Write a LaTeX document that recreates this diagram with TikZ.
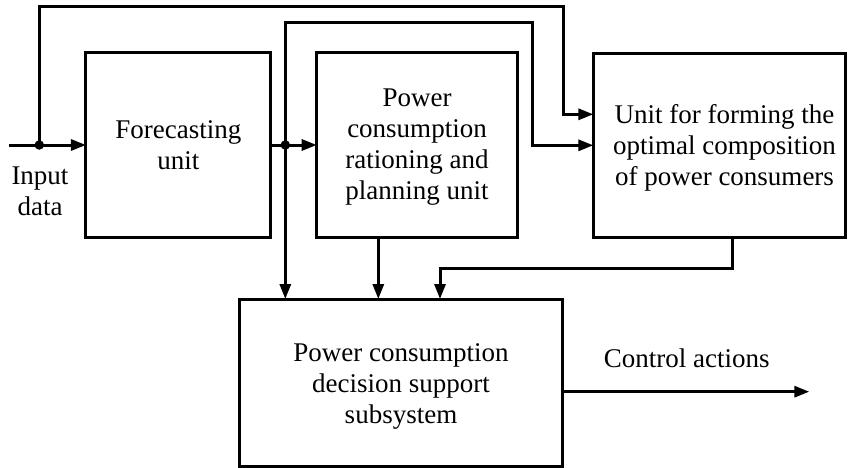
\documentclass[tikz,border=0pt]{standalone}
\usepackage{fontspec}
\setmainfont{Liberation Serif}
\usetikzlibrary{arrows.meta}
\tikzset{
  blk/.style={draw, line width=3pt, inner sep=0pt, outer sep=0pt},
  txt/.style={font=\fontsize{27}{31}\selectfont, align=center, inner sep=0pt},
  wire/.style={line width=3pt},
  arr/.style={wire, -{Triangle[length=15pt,width=11pt]}},
  jdot/.style={circle, fill, inner sep=0pt, minimum size=9.5pt}
}
\begin{document}
\begin{tikzpicture}[x=1pt,y=-1pt]
\useasboundingbox (0,0) rectangle (848,468);
% blocks
\node[blk, minimum width=184.7pt, minimum height=184.6pt] (fc) at (178.3,145) {};
\node[txt] (fct) at (178.3,145.3) {Forecasting\\unit};
\node[blk, minimum width=200.6pt, minimum height=184.6pt] (pl) at (417,145) {};
\node[txt] (plt) at (417,147.5) {Power\\consumption\\rationing and\\planning unit};
\node[blk, minimum width=251.7pt, minimum height=184pt] (un) at (719.2,145.3) {};
\node[txt] (unt) at (724.5,147.4) {Unit for forming the\\optimal composition\\of power consumers};
\node[blk, minimum width=323.4pt, minimum height=167pt] (ds) at (401,382.5) {};
\node[txt] (dst) at (401,386.5) {Power consumption\\decision support\\subsystem};
% free labels
\node[txt] (in) at (40,190.8) {Input\\data};
\node[txt, anchor=base] (ca) at (686.7,367) {Control actions};
% junctions and free ends
\coordinate (start) at (9,145);
\node[jdot] (d1) at (39.3,145) {};
\node[jdot] (d2) at (285.3,145) {};
\coordinate (end) at (809.3,391.7);
% connectors
\draw[wire] (start) -- (d1.center);
\draw[arr] (d1.center) -- (fc.west);
\draw[wire] (fc.east) -- (d2.center);
\draw[arr] (d2.center) -- (pl.west);
\draw[arr] (d1.center) |- (563.3,6.7) |- ([yshift=31pt]un.west);
\draw[arr] (d2.center) |- (532.7,22.7) |- (un.west);
\draw[arr] (d2.center) -- (d2.center |- ds.north);
\draw[arr] ([xshift=-38.7pt]pl.south) -- ([xshift=-38.7pt]pl.south |- ds.north);
\draw[arr] ([xshift=13.5pt]un.south) |- (440,268.3) -- (440,299);
\draw[arr] ([yshift=-9.2pt]ds.east) -- (end);
\end{tikzpicture}
\end{document}
